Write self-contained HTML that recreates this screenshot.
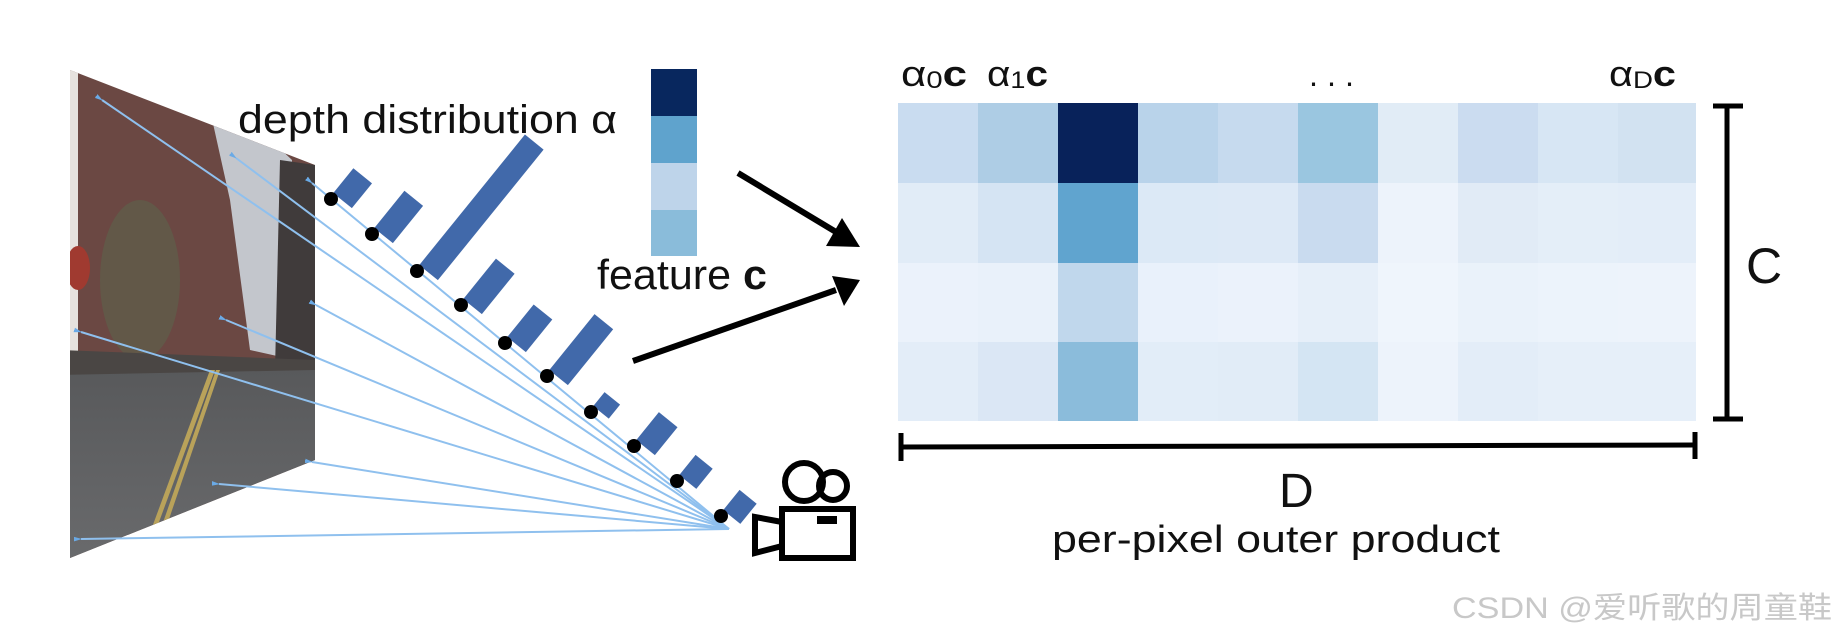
<!DOCTYPE html>
<html><head><meta charset="utf-8"><style>
html,body{margin:0;padding:0;background:#fff;}
svg{display:block;}
text{font-family:"Liberation Sans","Noto Sans CJK SC",sans-serif;}
</style></head><body>
<svg width="1836" height="638" viewBox="0 0 1836 638" xmlns="http://www.w3.org/2000/svg">
<defs>
<clipPath id="pc"><polygon points="70,70 315,165 315,460 70,558"/></clipPath>
<linearGradient id="road" x1="0" y1="0" x2="0" y2="1"><stop offset="0" stop-color="#58595b"/><stop offset="1" stop-color="#6a6b6d"/></linearGradient>
<marker id="ah" markerWidth="8" markerHeight="8" refX="1" refY="4" orient="auto-start-reverse" markerUnits="userSpaceOnUse"><path d="M0,4 L14,0 L14,8 Z" fill="#6aaae6"/></marker>
</defs>
<!-- photo -->
<g clip-path="url(#pc)">
<rect x="60" y="60" width="270" height="520" fill="#6b4843"/>
<polygon points="210,110 255,125 292,160 295,360 250,350 230,200" fill="#c3c6cc"/>
<polygon points="280,160 315,165 315,380 275,370" fill="#403b3b"/>
<rect x="60" y="60" width="18" height="300" fill="#e6e2de"/>
<ellipse cx="78" cy="268" rx="12" ry="22" fill="#a03a30"/>
<ellipse cx="140" cy="280" rx="40" ry="80" fill="#5e5f4a" opacity="0.7"/>
<polygon points="60,350 315,360 315,400 60,380" fill="#4a4644"/>
<polygon points="60,375 315,370 315,570 60,570" fill="url(#road)"/>
<polygon points="140,560 145,560 215,370 210,370" fill="#b9a25a"/>
<polygon points="150,560 155,560 220,370 216,370" fill="#b9a25a"/>
</g>
<!-- rays -->
<g stroke="#8fc0ee" stroke-width="2" fill="none" marker-end="url(#ah)">
<line x1="729" y1="529" x2="102" y2="100"/>
<line x1="729" y1="529" x2="236" y2="158"/>
<line x1="729" y1="529" x2="312" y2="183"/>
<line x1="729" y1="529" x2="316" y2="305"/>
<line x1="729" y1="529" x2="226" y2="320"/>
<line x1="729" y1="529" x2="81" y2="332"/>
<line x1="729" y1="529" x2="312" y2="462"/>
<line x1="729" y1="529" x2="219" y2="484"/>
<line x1="729" y1="529" x2="81" y2="539"/>
</g>
<!-- bars -->
<g fill="#4169aa">
<g transform="translate(331,199) rotate(-51)"><rect x="6" y="-2" width="32" height="24"/></g>
<g transform="translate(372,234) rotate(-51)"><rect x="6" y="-2" width="48" height="24"/></g>
<g transform="translate(417,271) rotate(-51)"><rect x="6" y="-2" width="168" height="24"/></g>
<g transform="translate(461,305) rotate(-51)"><rect x="6" y="-2" width="52" height="24"/></g>
<g transform="translate(505,343) rotate(-51)"><rect x="6" y="-2" width="42" height="24"/></g>
<g transform="translate(547,376) rotate(-51)"><rect x="6" y="-2" width="72" height="24"/></g>
<g transform="translate(591,412) rotate(-51)"><rect x="6" y="-2" width="18" height="20"/></g>
<g transform="translate(634,446) rotate(-51)"><rect x="6" y="-2" width="36" height="24"/></g>
<g transform="translate(677,481) rotate(-51)"><rect x="6" y="-2" width="26" height="22"/></g>
<g transform="translate(721,516) rotate(-51)"><rect x="6" y="-2" width="26" height="22"/></g>
</g>
<g fill="#000">
<circle cx="331" cy="199" r="7"/><circle cx="372" cy="234" r="7"/><circle cx="417" cy="271" r="7"/><circle cx="461" cy="305" r="7"/><circle cx="505" cy="343" r="7"/><circle cx="547" cy="376" r="7"/><circle cx="591" cy="412" r="7"/><circle cx="634" cy="446" r="7"/><circle cx="677" cy="481" r="7"/><circle cx="721" cy="516" r="7"/>
</g>
<!-- camera -->
<g fill="none" stroke="#000" stroke-width="6">
<circle cx="804" cy="482" r="19"/><circle cx="833" cy="486" r="14"/>
<rect x="782" y="509" width="71" height="49"/>
<polygon points="782,522 755,517 755,553 782,546"/>
</g>
<rect x="817" y="516" width="20" height="8" fill="#000"/>
<!-- texts -->
<text x="238" y="133" font-size="40" fill="#111" textLength="379" lengthAdjust="spacingAndGlyphs">depth distribution α</text>
<text x="597" y="289" font-size="42" fill="#111" textLength="170" lengthAdjust="spacingAndGlyphs">feature <tspan font-weight="bold">c</tspan></text>
<!-- feature column -->
<rect x="651" y="69" width="46" height="47" fill="#08275e"/>
<rect x="651" y="116" width="46" height="47" fill="#5fa3cd"/>
<rect x="651" y="163" width="46" height="47" fill="#bed4ea"/>
<rect x="651" y="210" width="46" height="46" fill="#8abcda"/>
<!-- arrows -->
<g stroke="#000" stroke-width="6">
<line x1="738" y1="173" x2="836" y2="232"/>
<line x1="633" y1="361" x2="836" y2="290"/>
</g>
<polygon points="860,247 826,246 842,218" fill="#000"/>
<polygon points="860,280 844,306 832,276" fill="#000"/>
<!-- matrix -->
<g>
<rect x="898" y="103" width="80" height="80" fill="#c9dcf0"/><rect x="978" y="103" width="80" height="80" fill="#aecde5"/><rect x="1058" y="103" width="80" height="80" fill="#08225a"/><rect x="1138" y="103" width="80" height="80" fill="#b9d3ea"/><rect x="1218" y="103" width="80" height="80" fill="#c6daee"/><rect x="1298" y="103" width="80" height="80" fill="#9ac6e0"/><rect x="1378" y="103" width="80" height="80" fill="#e1ecf6"/><rect x="1458" y="103" width="80" height="80" fill="#cbdcf0"/><rect x="1538" y="103" width="80" height="80" fill="#d7e6f4"/><rect x="1618" y="103" width="78" height="80" fill="#d2e2f1"/>
<rect x="898" y="183" width="80" height="80" fill="#e1ecf7"/><rect x="978" y="183" width="80" height="80" fill="#d5e4f3"/><rect x="1058" y="183" width="80" height="80" fill="#60a4cf"/><rect x="1138" y="183" width="80" height="80" fill="#dce9f6"/><rect x="1218" y="183" width="80" height="80" fill="#dde9f6"/><rect x="1298" y="183" width="80" height="80" fill="#c9dbef"/><rect x="1378" y="183" width="80" height="80" fill="#edf3fb"/><rect x="1458" y="183" width="80" height="80" fill="#e1ebf6"/><rect x="1538" y="183" width="80" height="80" fill="#e4eef8"/><rect x="1618" y="183" width="78" height="80" fill="#e3edf8"/>
<rect x="898" y="263" width="80" height="79" fill="#ebf2fb"/><rect x="978" y="263" width="80" height="79" fill="#e9f1fa"/><rect x="1058" y="263" width="80" height="79" fill="#c0d7ec"/><rect x="1138" y="263" width="80" height="79" fill="#e9f1fb"/><rect x="1218" y="263" width="80" height="79" fill="#ebf2fb"/><rect x="1298" y="263" width="80" height="79" fill="#e6eff9"/><rect x="1378" y="263" width="80" height="79" fill="#eff5fc"/><rect x="1458" y="263" width="80" height="79" fill="#eaf2fa"/><rect x="1538" y="263" width="80" height="79" fill="#ecf3fb"/><rect x="1618" y="263" width="78" height="79" fill="#edf3fb"/>
<rect x="898" y="342" width="80" height="79" fill="#e3edf8"/><rect x="978" y="342" width="80" height="79" fill="#dbe7f5"/><rect x="1058" y="342" width="80" height="79" fill="#8bbcdb"/><rect x="1138" y="342" width="80" height="79" fill="#e2edf8"/><rect x="1218" y="342" width="80" height="79" fill="#e1ecf7"/><rect x="1298" y="342" width="80" height="79" fill="#d4e5f3"/><rect x="1378" y="342" width="80" height="79" fill="#edf3fb"/><rect x="1458" y="342" width="80" height="79" fill="#e3edf8"/><rect x="1538" y="342" width="80" height="79" fill="#e6eff9"/><rect x="1618" y="342" width="78" height="79" fill="#e6eff9"/>
</g>
<text x="901" y="86" font-size="36" fill="#111" textLength="66" lengthAdjust="spacingAndGlyphs">α<tspan font-size="24" dy="2">0</tspan><tspan dy="-2" font-weight="bold">c</tspan></text>
<text x="987" y="86" font-size="36" fill="#111" textLength="61" lengthAdjust="spacingAndGlyphs">α<tspan font-size="24" dy="2">1</tspan><tspan dy="-2" font-weight="bold">c</tspan></text>
<text x="1309" y="86" font-size="32" fill="#111" textLength="45" lengthAdjust="spacingAndGlyphs">. . .</text>
<text x="1609" y="86" font-size="36" fill="#111" textLength="67" lengthAdjust="spacingAndGlyphs">α<tspan font-size="24" dy="2">D</tspan><tspan dy="-2" font-weight="bold">c</tspan></text>
<!-- brackets -->
<g stroke="#000" stroke-width="5">
<line x1="1727" y1="106" x2="1727" y2="419"/>
<line x1="1713" y1="106" x2="1743" y2="106"/>
<line x1="1713" y1="419" x2="1743" y2="419"/>
<line x1="900" y1="447" x2="1696" y2="445"/>
<line x1="901" y1="433" x2="901" y2="461"/>
<line x1="1695" y1="432" x2="1695" y2="459"/>
</g>
<text x="1746" y="283" font-size="50" fill="#111">C</text>
<text x="1279" y="507" font-size="48" fill="#111">D</text>
<text x="1052" y="552" font-size="38" fill="#111" textLength="448" lengthAdjust="spacingAndGlyphs">per-pixel outer product</text>
<text x="1452" y="618" font-size="30" fill="#c8c8c8" textLength="380" lengthAdjust="spacingAndGlyphs">CSDN @爱听歌的周童鞋</text>
</svg>
</body></html>
